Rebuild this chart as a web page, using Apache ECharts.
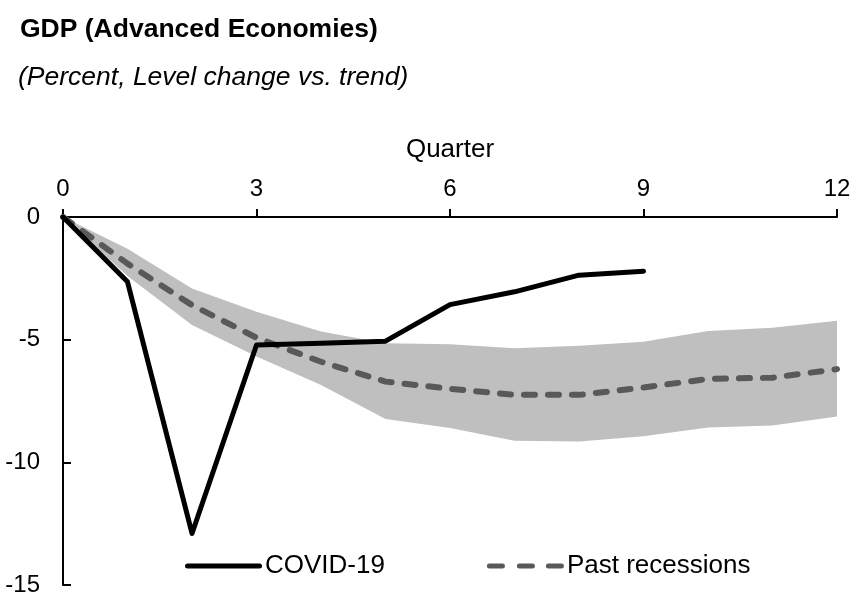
<!DOCTYPE html>
<html>
<head>
<meta charset="utf-8">
<script src="https://cdn.jsdelivr.net/npm/echarts@6/dist/echarts.min.js"></script>
<style>
html,body{margin:0;padding:0;background:#fff;}
#chart{width:857px;height:597px;}
</style>
</head>
<body>
<div id="chart"></div>
<script>
// Data
const quarters = [0,1,2,3,4,5,6,7,8,9,10,11,12];
const covid = [0,-2.64,-12.9,-5.22,-5.15,-5.06,-3.57,-3.05,-2.37,-2.21];
const pastMedian = [0,-1.9,-3.59,-4.92,-5.9,-6.71,-7.0,-7.25,-7.25,-6.95,-6.6,-6.55,-6.2];
const bandUpper = [0,-1.29,-2.91,-3.86,-4.67,-5.15,-5.19,-5.35,-5.25,-5.08,-4.65,-4.51,-4.23];
const bandLower = [0,-2.4,-4.4,-5.69,-6.85,-8.23,-8.6,-9.12,-9.15,-8.94,-8.58,-8.5,-8.13];
const xTicks = [0,3,6,9,12];
const yTicks = [0,-5,-10,-15];

const FONT = 'Liberation Sans, Arial, sans-serif';
const pair = (xs, ys) => ys.map((v,i)=>[xs[i], v]);
const bandData = quarters.map((q,i)=>[q, bandLower[i], bandUpper[i]]);

const chart = echarts.init(document.getElementById('chart'), null, {renderer:'canvas'});
chart.setOption({
  animation:false,
  backgroundColor:'#fff',
  title:[
    {text:'GDP (Advanced Economies)', left:15, top:11,
     textStyle:{fontFamily:FONT, fontSize:26.5, fontWeight:'bold', color:'#000', lineHeight:27}},
    {text:'(Percent, Level change vs. trend)', left:13, top:59,
     textStyle:{fontFamily:FONT, fontSize:26.5, fontStyle:'italic', fontWeight:'normal', color:'#000', lineHeight:27}}
  ],
  grid:{left:63, right:20, top:217, bottom:9, containLabel:false},
  legend:{
    left:185, top:553, padding:0, itemWidth:77, itemHeight:5, itemGap:102,
    textStyle:{fontFamily:FONT, fontSize:26, color:'#000', padding:[0,0,0,-2]},
    data:[
      {name:'COVID-19', icon:'path://M2.5,0h72a2.5,2.5 0 0 1 0,5h-72a2.5,2.5 0 0 1 0,-5z'},
      {name:'Past recessions', icon:'path://M2.5,0h13a2.5,2.5 0 0 1 0,5h-13a2.5,2.5 0 0 1 0,-5z M32.5,0h13a2.5,2.5 0 0 1 0,5h-13a2.5,2.5 0 0 1 0,-5z M61.5,0h13a2.5,2.5 0 0 1 0,5h-13a2.5,2.5 0 0 1 0,-5z'}
    ]
  },
  xAxis:{
    type:'value', position:'top', min:0, max:12, interval:3,
    name:'Quarter', nameLocation:'middle', nameGap:54,
    nameTextStyle:{fontFamily:FONT, fontSize:26, color:'#000'},
    axisLine:{show:true, onZero:false, lineStyle:{color:'#000', width:2}},
    axisTick:{show:true, inside:false, length:8, lineStyle:{color:'#000', width:2}},
    axisLabel:{fontFamily:FONT, fontSize:24, color:'#000', margin:16,
      formatter:(v)=> xTicks.includes(v) ? String(v) : ''},
    splitLine:{show:false}
  },
  yAxis:{
    type:'value', min:-15, max:0, interval:5,
    axisLine:{show:true, onZero:false, lineStyle:{color:'#000', width:2}},
    axisTick:{show:true, inside:true, length:8, lineStyle:{color:'#000', width:2}},
    axisLabel:{fontFamily:FONT, fontSize:24, color:'#000', margin:23,
      formatter:(v)=> yTicks.includes(v) ? String(v) : ''},
    splitLine:{show:false}
  },
  series:[
    {name:'band', type:'custom', data:bandData, silent:true, z:1,
     encode:{x:0, y:[1,2]},
     renderItem:(params, api)=>{
       if (params.dataIndex !== 0) return null;
       const up = bandData.map(d=>api.coord([d[0], d[2]]));
       const lo = bandData.map(d=>api.coord([d[0], d[1]])).reverse();
       return {type:'polygon', shape:{points:up.concat(lo)},
               style:{fill:'#bfbfbf', stroke:null}};
     }},
    {name:'Past recessions', type:'line', data:pair(quarters, pastMedian), symbol:'none',
     lineStyle:{color:'#595959', width:6, type:[11,13], cap:'round', join:'round'},
     itemStyle:{color:'#595959'}, z:3},
    {name:'COVID-19', type:'line', data:pair(quarters, covid), symbol:'none',
     lineStyle:{color:'#000', width:5, cap:'round', join:'round'},
     itemStyle:{color:'#000'}, z:4}
  ]
});
</script>
</body>
</html>
